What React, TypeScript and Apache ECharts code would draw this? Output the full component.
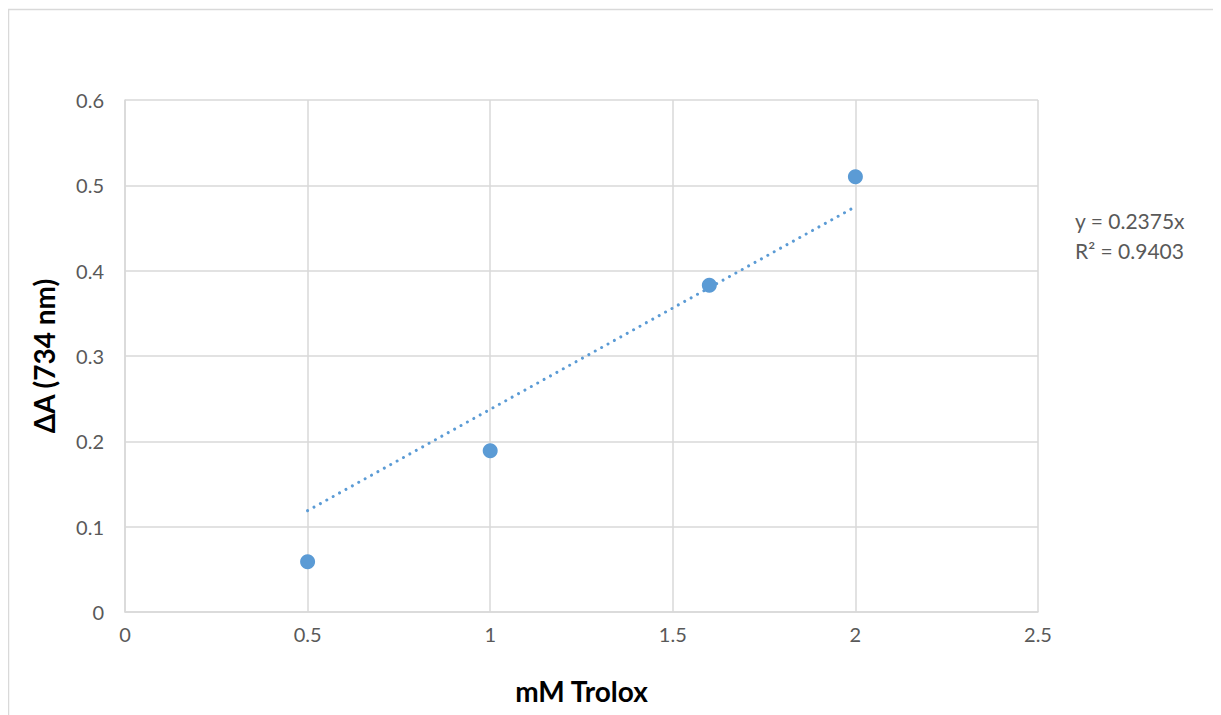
import React, { useEffect, useRef } from "react";
import * as echarts from "echarts";

const xValues = [0.5, 1, 1.6, 2];
const yValues = [0.059, 0.189, 0.383, 0.51];
const trendX = [0.5, 2];
const trendY = [0.11875, 0.475];
const equationLines = ["y = 0.2375x", "R² = 0.9403"];
const xTitle = "mM Trolox";
const yTitle = "ΔA (734 nm)";

const FONT = "Lato, 'Liberation Sans', sans-serif";
const BLUE = "#5b9bd5";
const GRID = "#d9d9d9";
const LABEL = "#595959";

export default function App() {
  const ref = useRef<HTMLDivElement>(null);
  useEffect(() => {
    document.body.style.overflow = "hidden";
    const chart = echarts.init(ref.current!, undefined, { renderer: "svg" });
    chart.setOption({
      animation: false,
      backgroundColor: "#ffffff",
      textStyle: { fontFamily: FONT },
      grid: { left: 117, top: 92, width: 913, height: 512, containLabel: false },
      xAxis: {
        type: "value",
        min: 0,
        max: 2.5,
        interval: 0.5,
        name: xTitle,
        nameLocation: "middle",
        nameGap: 65,
        nameTextStyle: { fontFamily: FONT, fontSize: 28, fontWeight: "bold", color: "#000" },
        axisLine: { show: true, lineStyle: { color: GRID, width: 1.5 } },
        axisTick: { show: false },
        axisLabel: { color: LABEL, fontSize: 20, margin: 12, fontFamily: FONT },
        splitLine: { show: true, lineStyle: { color: GRID, width: 1.5 } },
      },
      yAxis: {
        type: "value",
        min: 0,
        max: 0.6,
        interval: 0.1,
        name: yTitle,
        nameLocation: "middle",
        nameGap: 67,
        nameTextStyle: { fontFamily: FONT, fontSize: 28, fontWeight: "bold", color: "#000" },
        axisLine: { show: true, lineStyle: { color: GRID, width: 1.5 } },
        axisTick: { show: false },
        axisLabel: { color: LABEL, fontSize: 20, margin: 21, fontFamily: FONT },
        splitLine: { show: true, lineStyle: { color: GRID, width: 1.5 } },
      },
      series: [
        {
          type: "line",
          data: trendX.map((x, i) => [x, trendY[i]]),
          showSymbol: false,
          symbol: "none",
          lineStyle: { color: BLUE, width: 3, type: [0.01, 7.3], cap: "round" },
          z: 2,
        },
        {
          type: "scatter",
          data: xValues.map((x, i) => [x, yValues[i]]),
          symbol: "circle",
          symbolSize: 15,
          itemStyle: { color: BLUE, opacity: 1 },
          z: 3,
        },
      ],
      graphic: [
        {
          type: "rect",
          shape: { x: 0.5, y: 1.5, width: 1400, height: 900 },
          style: { fill: "none", stroke: "#d9d9d9", lineWidth: 1.5 },
          silent: true,
          z: -1,
        },
        {
          type: "text",
          left: 1067,
          top: 197,
          style: {
            text: equationLines.join("\n"),
            font: `21px ${FONT}`,
            fill: LABEL,
            lineHeight: 30,
          },
        },
      ],
    });
    return () => chart.dispose();
  }, []);
  return <div ref={ref} style={{ width: 1300, height: 800 }} />;
}
